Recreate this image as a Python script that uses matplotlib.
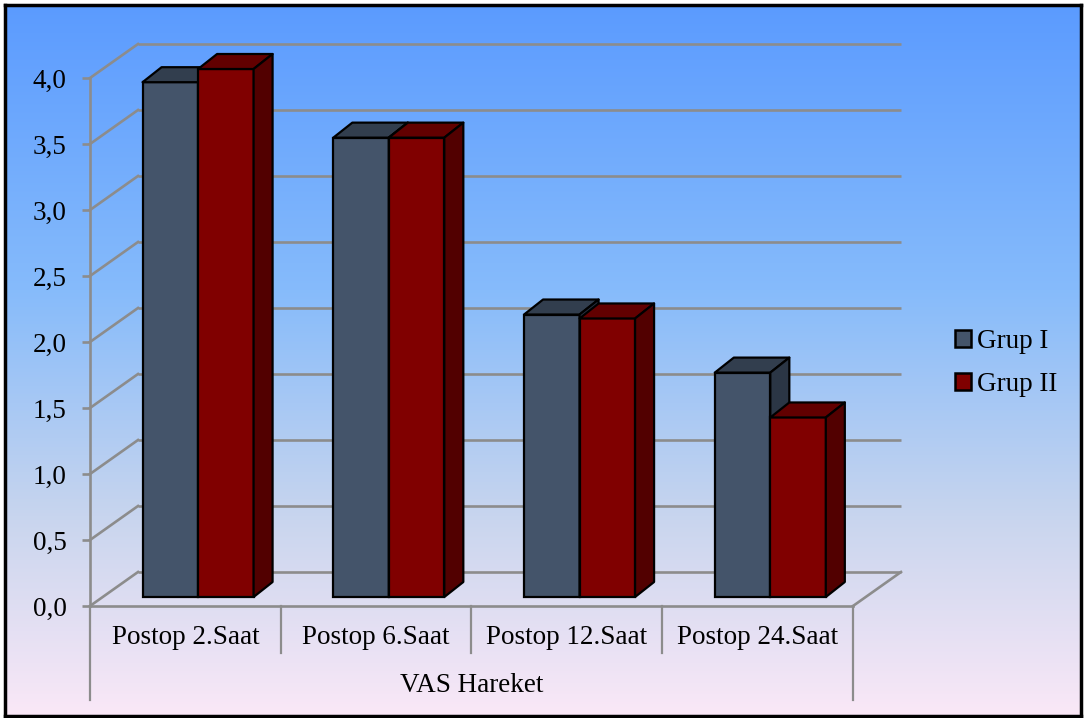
import numpy as np
import matplotlib
matplotlib.use("Agg")
import matplotlib.pyplot as plt
from matplotlib.colors import LinearSegmentedColormap
from matplotlib.patches import Polygon, Patch

plt.rcParams["font.family"] = ["Liberation Serif", "DejaVu Serif"]

# Chart data
categories = ["Postop 2.Saat", "Postop 6.Saat", "Postop 12.Saat", "Postop 24.Saat"]
group_title = "VAS Hareket"
series_names = ["Grup I", "Grup II"]
grup_1 = [3.90, 3.48, 2.14, 1.70]
grup_2 = [4.00, 3.48, 2.11, 1.36]
y_ticks = [0.0, 0.5, 1.0, 1.5, 2.0, 2.5, 3.0, 3.5, 4.0]

# Face colours: front, top, side
FACES = [
    ("#44546A", "#323E4E", "#2B3645"),
    ("#800000", "#620000", "#520000"),
]
GRID = "#8C8C8C"
FS = 19.5

W, H = 1084, 718
fig = plt.figure(figsize=(W / 100, H / 100), dpi=100)
fig.patch.set_facecolor("white")

# Gradient background with a black frame
bg = fig.add_axes([5 / W, 2 / H, 1076 / W, 711 / H], zorder=-2)
grad = LinearSegmentedColormap.from_list(
    "bg",
    [(0.0, "#5B9BFF"), (0.4, "#86BBFB"), (0.72, "#C8D5EE"), (1.0, "#FAE8F7")],
)
bg.imshow(np.linspace(0, 1, 256).reshape(-1, 1), cmap=grad, aspect="auto",
          extent=(0, 1, 0, 1), origin="upper")
bg.set_xticks([])
bg.set_yticks([])
for sp in bg.spines.values():
    sp.set_color("black")
    sp.set_linewidth(2.5)

# Main axes: front plane of the 3D box (x in category units, y in values)
ax = fig.add_axes([90 / W, (H - 606) / H, 763 / W, 528 / H])
ax.set_facecolor("none")
ax.set_xlim(0, 4)
ax.set_ylim(0, 4)

px_x = 4 / 763  # data units per pixel
px_y = 4 / 528
depth = (48 * px_x, 34 * px_y)        # wall depth
bar_off = (12.7 * px_x, 9 * px_y)     # bar front plane offset
bar_depth = (19 * px_x, 15 * px_y)    # bar depth
bw = 55.5 * px_x

# Spines: left axis and front floor edge
for name in ["top", "right"]:
    ax.spines[name].set_visible(False)
for name in ["left", "bottom"]:
    ax.spines[name].set_color(GRID)
    ax.spines[name].set_linewidth(1.9)
ax.set_yticks(y_ticks, labels=[f"{t:.1f}".replace(".", ",") for t in y_ticks])
ax.tick_params(axis="y", length=6, width=1.9, color=GRID, pad=11,
               labelsize=FS, labelcolor="black")
ax.set_xticks([])

# Back wall and side wall gridlines
for t in y_ticks:
    ax.plot([depth[0], 4 + depth[0]], [t + depth[1]] * 2, color=GRID, lw=1.9,
            clip_on=False, zorder=1, solid_capstyle="butt")
    ax.plot([0, depth[0]], [t, t + depth[1]], color=GRID, lw=1.9,
            clip_on=False, zorder=1)
# floor right edge
ax.plot([4, 4 + depth[0]], [0, depth[1]], color=GRID, lw=1.9, clip_on=False, zorder=1)

# Category dividers
for i in range(len(categories) + 1):
    bottom = -94 * px_y if i in (0, len(categories)) else -47 * px_y
    ax.plot([i, i], [0, bottom], color=GRID, lw=1.6, clip_on=False, zorder=1)

# Bars
for s, vals in enumerate([grup_1, grup_2]):
    front, top, side = FACES[s]
    xs = [i + 0.5 - bw + s * bw + bar_off[0] for i in range(len(categories))]
    ax.bar(xs, vals, width=bw, bottom=bar_off[1], align="edge", color=front,
           edgecolor="black", linewidth=1.6, zorder=3 + s, clip_on=False)
    for x0, v in zip(xs, vals):
        y0 = bar_off[1]
        y1 = v + bar_off[1]
        dx, dy = bar_depth
        ax.add_patch(Polygon([(x0, y1), (x0 + bw, y1), (x0 + bw + dx, y1 + dy),
                              (x0 + dx, y1 + dy)], closed=True, facecolor=top,
                             edgecolor="black", lw=1.6, zorder=3 + s, clip_on=False,
                             joinstyle="round"))
        ax.add_patch(Polygon([(x0 + bw, y0), (x0 + bw + dx, y0 + dy),
                              (x0 + bw + dx, y1 + dy), (x0 + bw, y1)], closed=True,
                             facecolor=side, edgecolor="black", lw=1.6,
                             zorder=3 + s, clip_on=False, joinstyle="round"))

# Category labels
for i, c in enumerate(categories):
    ax.text(i + 0.5, -31 * px_y, c, ha="center", va="center", fontsize=FS)
ax.text(2, -79 * px_y, group_title, ha="center", va="center", fontsize=FS)

# Legend
handles = [Patch(facecolor=FACES[s][0], edgecolor="black", linewidth=1.8)
           for s in range(2)]
ax.legend(handles, series_names, loc="center left",
          bbox_to_anchor=(955 / W, 1 - 363 / H), bbox_transform=fig.transFigure,
          frameon=False, fontsize=FS, handlelength=0.6, handleheight=0.6,
          handletextpad=0.2, labelspacing=0.65, borderpad=0, borderaxespad=0)

fig.savefig("out.png", dpi=100)
